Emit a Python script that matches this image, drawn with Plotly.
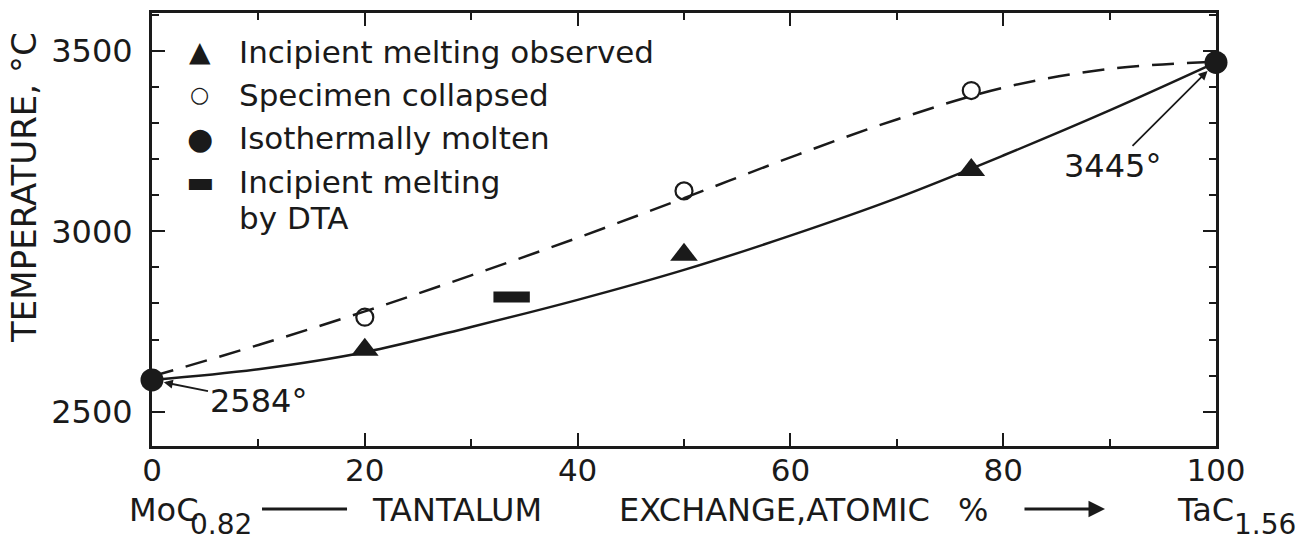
import plotly.graph_objects as go

FONT = "DejaVu Sans"
INK = "#1a1a1a"

# --- data ---
tri_x = [20, 50, 77]
tri_y = [2672, 2935, 3170]
open_x = [20, 50, 77]
open_y = [2762, 3112, 3390]
molten_x = [0, 100]
molten_y = [2588, 3468]
dta_x = [33.8]
dta_y = [2818]

solid_x = [0, 10, 20, 30, 40, 50, 60, 70, 80, 90, 100]
solid_y = [2588, 2618, 2665, 2735, 2810, 2893, 2988, 3092, 3210, 3335, 3468]
dash_x = [0, 10, 20, 30, 40, 50, 60, 70, 80, 90, 100]
dash_y = [2598, 2685, 2778, 2878, 2982, 3092, 3205, 3310, 3398, 3450, 3470]

x_ticks = [0, 20, 40, 60, 80, 100]
y_ticks = [2500, 3000, 3500]

legend_symbols = ["▲", "○", "●", "▬", ""]
legend_labels = ["Incipient melting observed", "Specimen collapsed", "Isothermally molten", "Incipient melting", "by DTA"]

fig = go.Figure()
fig.add_trace(go.Scatter(x=dash_x, y=dash_y, mode="lines", line=dict(color=INK, width=2.5, dash="22px,13px", shape="spline"), showlegend=False))
fig.add_trace(go.Scatter(x=solid_x, y=solid_y, mode="lines", line=dict(color=INK, width=2.5, shape="spline"), showlegend=False))
fig.add_trace(go.Scatter(x=tri_x, y=tri_y, mode="markers", marker=dict(symbol="triangle-up", size=24, color=INK), showlegend=False))
fig.add_trace(go.Scatter(x=open_x, y=open_y, mode="markers", marker=dict(symbol="circle-open", size=17, color=INK, line=dict(width=2.2)), showlegend=False))
fig.add_trace(go.Scatter(x=molten_x, y=molten_y, mode="markers", marker=dict(symbol="circle", size=23, color=INK), showlegend=False, cliponaxis=False))
fig.add_trace(go.Scatter(x=dta_x, y=dta_y, mode="markers", marker=dict(symbol="line-ew", size=26, color=INK, line=dict(width=11, color=INK)), showlegend=False))

anns = []
# legend (as text)
leg_y = [0.910, 0.811, 0.711, 0.610, 0.527]
sym_sizes = [28, 22, 30, 30, 20]
for sym, txt, yy, ss in zip(legend_symbols, legend_labels, leg_y, sym_sizes):
    if sym:
        anns.append(dict(x=0.0451, y=yy, xref="paper", yref="paper", text=sym, showarrow=False,
                         font=dict(family=FONT, size=ss, color=INK), xanchor="center", yanchor="middle"))
    anns.append(dict(x=0.0799, y=yy, xref="paper", yref="paper", text=txt, showarrow=False,
                     font=dict(family=FONT, size=31, color=INK), xanchor="left", yanchor="middle"))

# point labels
anns.append(dict(x=molten_x[0], y=molten_y[0], xref="x", yref="y", text="2584°", showarrow=True, arrowhead=2, arrowsize=1,
                 arrowwidth=1.8, arrowcolor=INK, ax=106, ay=21, font=dict(family=FONT, size=32, color=INK),
                 xanchor="center", standoff=12))
anns.append(dict(x=molten_x[1], y=molten_y[1], xref="x", yref="y", text="3445°", showarrow=True, arrowhead=2, arrowsize=1,
                 arrowwidth=1.8, arrowcolor=INK, ax=-104, ay=104, font=dict(family=FONT, size=32, color=INK),
                 xanchor="center", standoff=12))

# y-axis title
anns.append(dict(x=-0.1203, y=0.596, xref="paper", yref="paper", text="TEMPERATURE, °C", textangle=-90, showarrow=False,
                 font=dict(family=FONT, size=34, color=INK), xanchor="center", yanchor="middle"))

# x-axis title pieces
XT_Y = -0.148
anns.append(dict(x=-0.0235, y=XT_Y, xref="paper", yref="paper", text="MoC", showarrow=False,
                 font=dict(family=FONT, size=32, color=INK), xanchor="left", yanchor="middle"))
anns.append(dict(x=0.0335, y=-0.181, xref="paper", yref="paper", text="0.82", showarrow=False,
                 font=dict(family=FONT, size=28, color=INK), xanchor="left", yanchor="middle"))
anns.append(dict(x=0.2049, y=XT_Y, xref="paper", yref="paper", text="TANTALUM", showarrow=False,
                 font=dict(family=FONT, size=32, color=INK), xanchor="left", yanchor="middle"))
anns.append(dict(x=0.5846, y=XT_Y, xref="paper", yref="paper", text="EXCHANGE,ATOMIC", showarrow=False,
                 font=dict(family=FONT, size=32, color=INK), xanchor="center", yanchor="middle"))
anns.append(dict(x=0.7716, y=XT_Y, xref="paper", yref="paper", text="%", showarrow=False,
                 font=dict(family=FONT, size=32, color=INK), xanchor="center", yanchor="middle"))
anns.append(dict(x=0.9615, y=XT_Y, xref="paper", yref="paper", text="TaC", showarrow=False,
                 font=dict(family=FONT, size=32, color=INK), xanchor="left", yanchor="middle"))
anns.append(dict(x=1.0148, y=-0.181, xref="paper", yref="paper", text="1.56", showarrow=False,
                 font=dict(family=FONT, size=28, color=INK), xanchor="left", yanchor="middle"))

shapes = [
    dict(type="line", xref="paper", yref="paper", x0=0.1034, x1=0.1833, y0=-0.1455, y1=-0.1455, line=dict(color=INK, width=3)),
]
anns.append(dict(x=0.8957, y=-0.1455, xref="x domain", yref="y domain", ax=0.8186, ay=-0.1455, axref="x domain", ayref="y domain",
                 text="", showarrow=True, arrowhead=2, arrowsize=1.1, arrowwidth=3, arrowcolor=INK))

fig.update_layout(
    width=1303, height=546,
    margin=dict(l=152, r=87, t=13, b=100, autoexpand=False),
    plot_bgcolor="white", paper_bgcolor="white",
    font=dict(family=FONT, color=INK),
    annotations=anns, shapes=shapes,
    showlegend=False,
)
fig.update_xaxes(range=[0, 100], tickvals=x_ticks, ticktext=[str(v) for v in x_ticks],
                 ticks="inside", ticklen=13, tickwidth=2, tickcolor=INK,
                 minor=dict(dtick=10, ticks="inside", ticklen=7, tickwidth=2, tickcolor=INK),
                 showline=True, linewidth=3, linecolor=INK, mirror="allticks", automargin=False,
                 ticklabelstandoff=-5,
                 showgrid=False, zeroline=False, tickfont=dict(family=FONT, size=31, color=INK))
fig.update_yaxes(range=[2405, 3605], tickvals=y_ticks, ticktext=[str(v) for v in y_ticks],
                 ticks="inside", ticklen=13, tickwidth=2, tickcolor=INK,
                 minor=dict(dtick=100, ticks="inside", ticklen=7, tickwidth=2, tickcolor=INK),
                 showline=True, linewidth=3, linecolor=INK, mirror="allticks", automargin=False,
                 ticklabelstandoff=10,
                 showgrid=False, zeroline=False, tickfont=dict(family=FONT, size=32, color=INK))

fig.write_html("out.html", config={"displayModeBar": False},
               post_script="document.body.style.margin='0';document.body.style.overflow='hidden';")
